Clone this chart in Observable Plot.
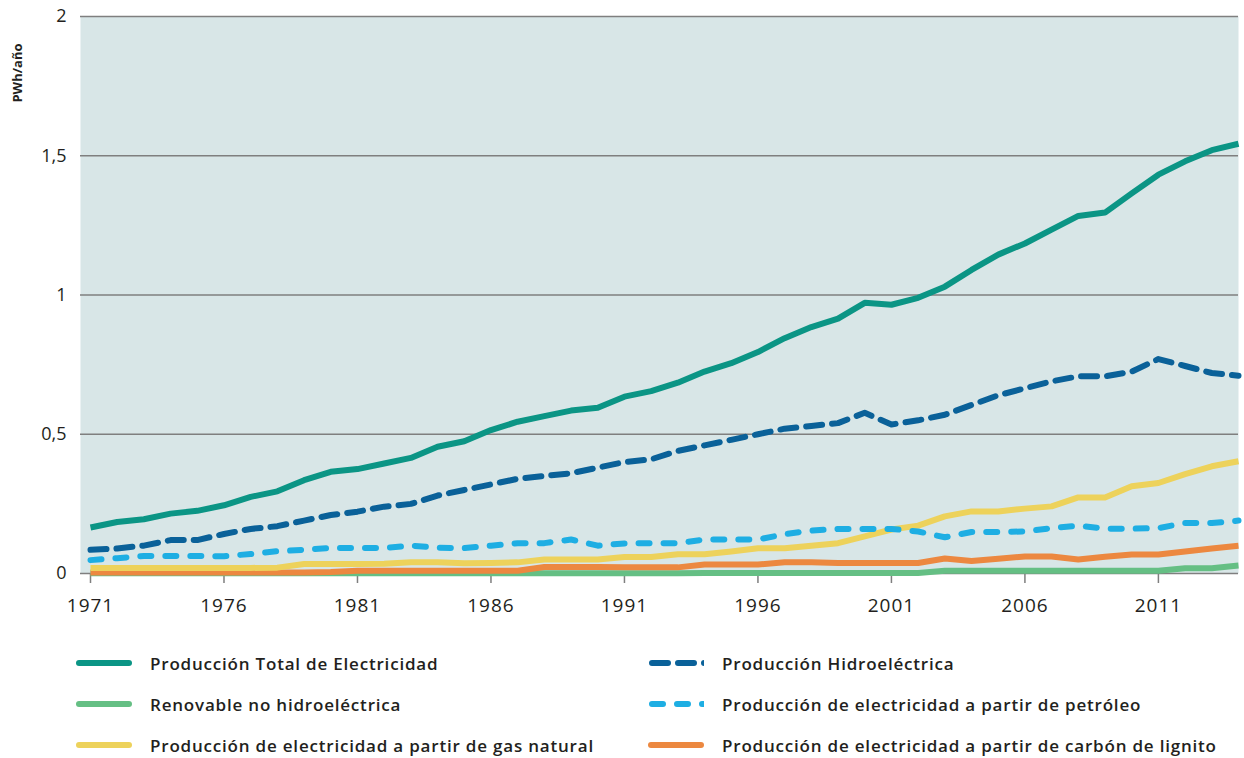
<!DOCTYPE html>
<html>
<head>
<meta charset="utf-8">
<script src="https://cdn.jsdelivr.net/npm/d3@7"></script>
<script src="https://cdn.jsdelivr.net/npm/@observablehq/plot@0.6"></script>
<style>
  body { margin: 0; background: #fff; font-family: "Open Sans", sans-serif; }
  #wrap { position: relative; width: 1244px; height: 758px; }
  .leg { position: absolute; display: flex; align-items: center; font-size: 17px; font-weight: 600; letter-spacing: 0.8px; color: #231f20; white-space: nowrap; }
  .leg svg { margin-right: 18px; }
  .xax text { letter-spacing: 1px; }
</style>
</head>
<body>
<div id="wrap"></div>
<script>
const years = d3.range(1971, 2015);

const total = [0.165,0.185,0.195,0.215,0.225,0.245,0.275,0.295,0.335,0.365,0.375,0.395,0.415,0.455,0.475,0.515,0.545,0.565,0.585,0.595,0.635,0.655,0.685,0.725,0.755,0.795,0.845,0.885,0.915,0.972,0.965,0.99,1.03,1.09,1.145,1.185,1.235,1.284,1.296,1.365,1.432,1.48,1.52,1.543];
const hydro = [0.085,0.09,0.1,0.12,0.12,0.142,0.16,0.17,0.19,0.21,0.222,0.24,0.25,0.28,0.30,0.32,0.34,0.35,0.36,0.38,0.40,0.41,0.44,0.46,0.48,0.50,0.52,0.53,0.54,0.577,0.535,0.55,0.57,0.605,0.64,0.665,0.69,0.708,0.708,0.725,0.77,0.745,0.72,0.71];
const renew = [0.001,0.001,0.001,0.001,0.001,0.001,0.001,0.001,0.001,0.001,0.001,0.001,0.001,0.001,0.001,0.001,0.001,0.001,0.001,0.001,0.001,0.001,0.001,0.002,0.002,0.002,0.002,0.002,0.002,0.002,0.002,0.002,0.01,0.01,0.01,0.01,0.01,0.01,0.01,0.01,0.01,0.019,0.019,0.029];
const oil = [0.048,0.055,0.063,0.063,0.063,0.062,0.07,0.08,0.085,0.092,0.092,0.092,0.1,0.093,0.091,0.1,0.109,0.109,0.122,0.1,0.108,0.109,0.109,0.122,0.122,0.122,0.141,0.154,0.16,0.16,0.16,0.151,0.13,0.149,0.149,0.151,0.163,0.172,0.161,0.161,0.163,0.181,0.181,0.19];
const gas = [0.02,0.02,0.02,0.02,0.02,0.02,0.02,0.021,0.034,0.034,0.034,0.035,0.04,0.04,0.037,0.038,0.04,0.05,0.05,0.05,0.059,0.059,0.069,0.069,0.079,0.091,0.091,0.1,0.109,0.133,0.158,0.172,0.205,0.223,0.223,0.233,0.241,0.273,0.273,0.313,0.325,0.357,0.385,0.403];
const coal = [0.004,0.004,0.004,0.004,0.004,0.004,0.004,0.004,0.004,0.005,0.01,0.01,0.01,0.01,0.01,0.01,0.01,0.023,0.023,0.023,0.022,0.022,0.022,0.032,0.032,0.032,0.04,0.04,0.038,0.038,0.038,0.038,0.054,0.045,0.053,0.061,0.061,0.05,0.06,0.068,0.068,0.079,0.09,0.1];

const yTicks = [0, 0.5, 1, 1.5, 2];
const xTicks = [1971, 1976, 1981, 1986, 1991, 1996, 2001, 2006, 2011];

const series = [
  {name: "Producción Total de Electricidad", values: total, color: "#0b9585", dash: null},
  {name: "Producción Hidroeléctrica", values: hydro, color: "#0a6199", dash: "16,10"},
  {name: "Renovable no hidroeléctrica", values: renew, color: "#65bf84", dash: null},
  {name: "Producción de electricidad a partir de petróleo", values: oil, color: "#1eaee3", dash: "11,14"},
  {name: "Producción de electricidad a partir de gas natural", values: gas, color: "#edd25b", dash: null},
  {name: "Producción de electricidad a partir de carbón de lignito", values: coal, color: "#ec8840", dash: null}
];

const drawOrder = [2, 5, 4, 3, 1, 0];

const fmt = d => String(d).replace(".", ",");

const marks = [
  Plot.frame({fill: "#d8e6e7", stroke: null}),
  Plot.ruleY(yTicks, {stroke: "#7f7f7f", strokeWidth: 1.5}),
  Plot.axisY({ticks: yTicks, tickSize: 0, tickPadding: 14, tickFormat: fmt, fontSize: 18, label: null, fill: "#231f20"}),
  Plot.axisX({ticks: xTicks, tickSize: 10, tickPadding: 15, tickFormat: d => String(d), fontSize: 19, label: null, stroke: "#7f7f7f", strokeWidth: 1.5, fill: "#231f20", className: "xax"})
];
for (const i of drawOrder) {
  const s = series[i];
  const data = years.map((yr, k) => ({year: yr, v: s.values[k]}));
  marks.push(Plot.line(data, {
    x: "year", y: "v", stroke: s.color, strokeWidth: 6,
    strokeDasharray: s.dash || undefined,
    strokeLinecap: s.dash ? "round" : "butt",
    strokeLinejoin: "round"
  }));
}

const chart = Plot.plot({
  width: 1244,
  height: 630,
  marginTop: 16,
  marginBottom: 57,
  marginLeft: 80,
  marginRight: 6,
  style: {fontFamily: "Open Sans, sans-serif", background: "#fff"},
  x: {domain: [1971, 2014], insetLeft: 10},
  y: {domain: [0, 2]},
  marks
});
const wrap = document.getElementById("wrap");
wrap.appendChild(chart);

// y-axis title
const ns = "http://www.w3.org/2000/svg";
const t = document.createElementNS(ns, "text");
t.setAttribute("transform", "translate(22,73) rotate(-90)");
t.setAttribute("text-anchor", "middle");
t.setAttribute("font-size", "13");
t.setAttribute("font-weight", "700");
t.setAttribute("fill", "#231f20");
t.textContent = "PWh/año";
chart.appendChild(t);

// legend
const legPos = [
  {i: 0, x: 76, y: 663}, {i: 1, x: 648, y: 663},
  {i: 2, x: 76, y: 704}, {i: 3, x: 648, y: 704},
  {i: 4, x: 76, y: 745}, {i: 5, x: 648, y: 745}
];
for (const p of legPos) {
  const s = series[p.i];
  const div = document.createElement("div");
  div.className = "leg";
  div.style.left = p.x + "px";
  div.style.top = (p.y - 12) + "px";
  div.style.height = "24px";
  let line;
  if (p.i === 1) {
    line = `<line x1="4" y1="6" x2="60" y2="6" stroke="${s.color}" stroke-width="6" stroke-linecap="round" stroke-dasharray="16,10"/>`;
  } else if (p.i === 3) {
    line = `<line x1="4" y1="6" x2="58" y2="6" stroke="${s.color}" stroke-width="6" stroke-linecap="round" stroke-dasharray="11,14"/>`;
  } else {
    line = `<line x1="3" y1="6" x2="53" y2="6" stroke="${s.color}" stroke-width="6" stroke-linecap="round"/>`;
  }
  div.innerHTML = `<svg width="56" height="12">${line}</svg><span>${s.name}</span>`;
  wrap.appendChild(div);
}
</script>
</body>
</html>
